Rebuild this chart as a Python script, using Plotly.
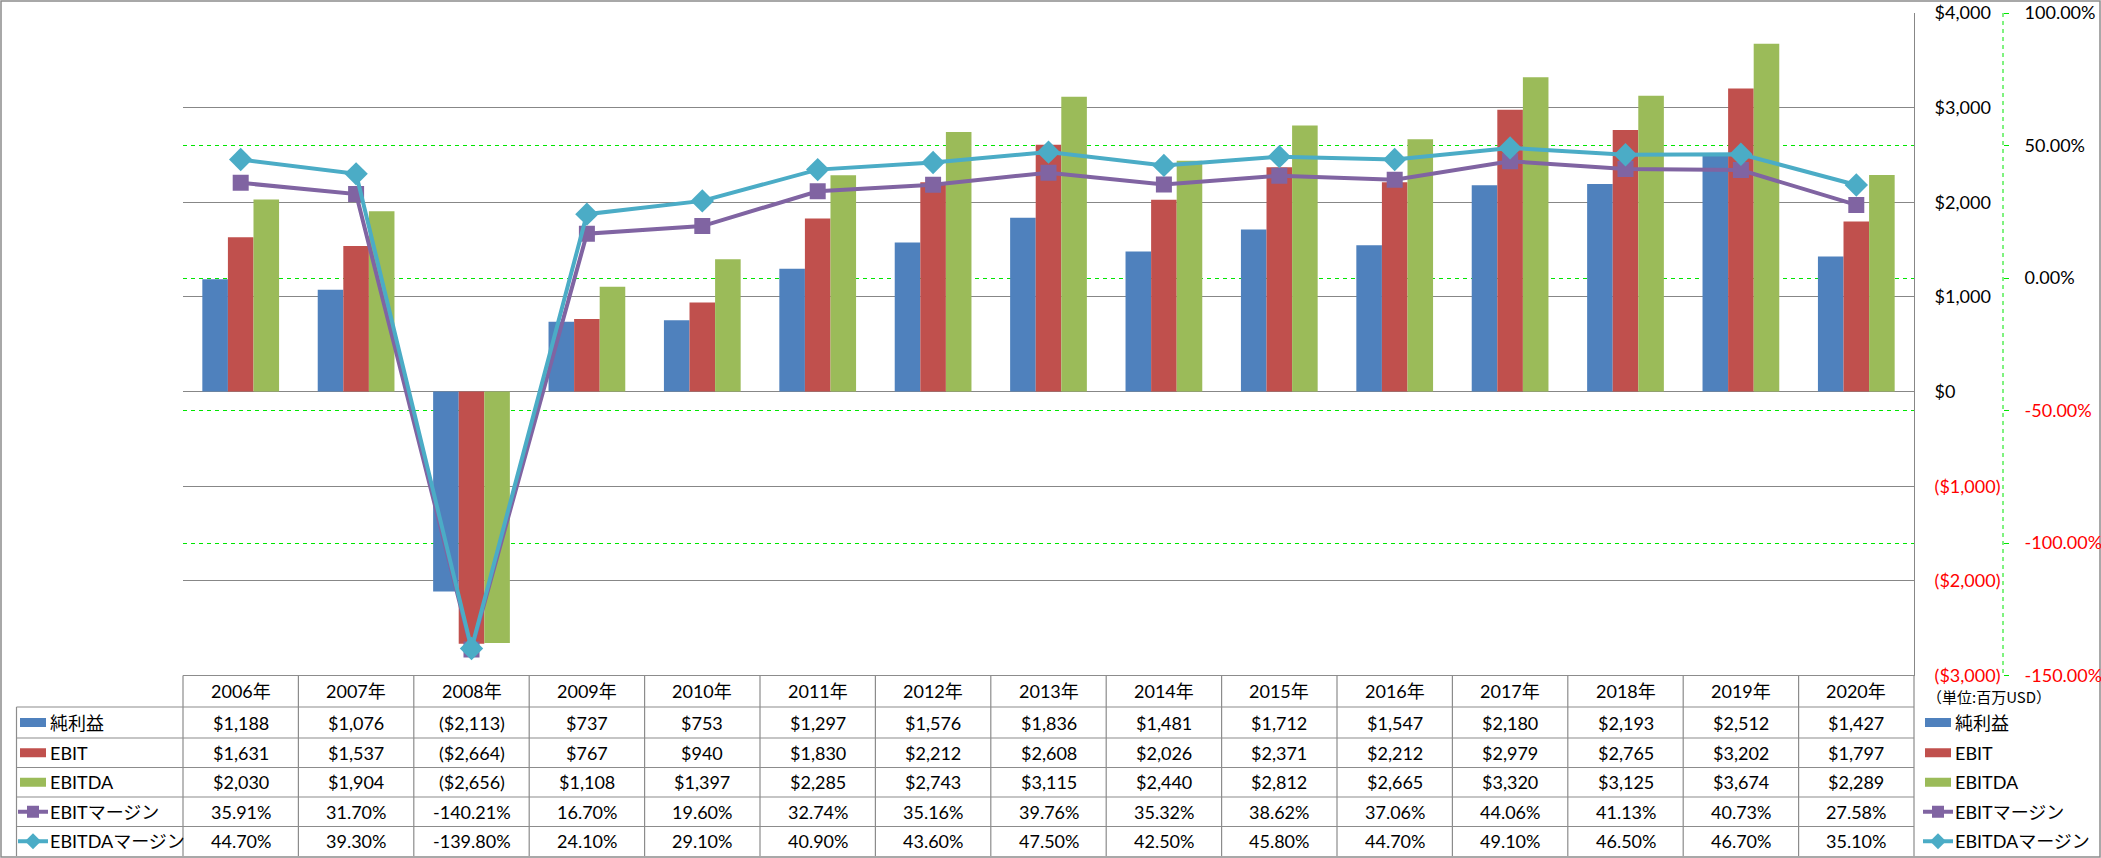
import plotly.graph_objects as go

W, H = 2101, 858

years = ["2006年", "2007年", "2008年", "2009年", "2010年", "2011年", "2012年", "2013年",
         "2014年", "2015年", "2016年", "2017年", "2018年", "2019年", "2020年"]
net_income = [1188, 1076, -2113, 737, 753, 1297, 1576, 1836, 1481, 1712, 1547, 2180, 2193, 2512, 1427]
ebit = [1631, 1537, -2664, 767, 940, 1830, 2212, 2608, 2026, 2371, 2212, 2979, 2765, 3202, 1797]
ebitda = [2030, 1904, -2656, 1108, 1397, 2285, 2743, 3115, 2440, 2812, 2665, 3320, 3125, 3674, 2289]
ebit_margin = [35.91, 31.70, -140.21, 16.70, 19.60, 32.74, 35.16, 39.76, 35.32, 38.62, 37.06, 44.06, 41.13, 40.73, 27.58]
ebitda_margin = [44.70, 39.30, -139.80, 24.10, 29.10, 40.90, 43.60, 47.50, 42.50, 45.80, 44.70, 49.10, 46.50, 46.70, 35.10]

usd_ticks = [-3000, -2000, -1000, 0, 1000, 2000, 3000, 4000]
pct_ticks = [-150, -100, -50, 0, 50, 100]

series_names = ["純利益", "EBIT", "EBITDA", "EBITマージン", "EBITDAマージン"]
unit_label = "（単位:百万USD）"

C_BLUE, C_RED, C_GREEN = "#4F81BD", "#C0504D", "#9BBB59"
C_PURPLE, C_CYAN = "#8064A2", "#4BACC6"
C_GRID = "#878787"
C_LIME = "#00E600"
FONT = "Lato, 'Noto Sans CJK JP', sans-serif"
JFONT = "'Noto Sans CJK JP', sans-serif"

PL, PR, PT, PB = 183, 1914, 13, 675.5
ROWS = [675.5, 707, 738, 767.5, 797, 826.5, 856]


def fx(x):
    return x / W


def fy(y):
    return 1 - y / H


def usd(v):
    return f"${v:,}" if v >= 0 else f"(${-v:,})"


def usd_tick(v):
    t = usd(v)
    return f'<span style="color:#FF0000">{t}</span>' if v < 0 else t


def pct_tick(v):
    t = f"{v:.2f}%"
    return f'<span style="color:#FF0000">{t}</span>' if v < 0 else t


fig = go.Figure()
fig.add_bar(x=years, y=net_income, name=series_names[0], marker_color=C_BLUE, marker_line_width=0)
fig.add_bar(x=years, y=ebit, name=series_names[1], marker_color=C_RED, marker_line_width=0)
fig.add_bar(x=years, y=ebitda, name=series_names[2], marker_color=C_GREEN, marker_line_width=0)
fig.add_scatter(x=years, y=ebit_margin, name=series_names[3], yaxis="y2", mode="lines+markers",
                line=dict(color=C_PURPLE, width=4),
                marker=dict(symbol="square", size=16, color=C_PURPLE))
fig.add_scatter(x=years, y=ebitda_margin, name=series_names[4], yaxis="y2", mode="lines+markers",
                line=dict(color=C_CYAN, width=4),
                marker=dict(symbol="diamond", size=18, color=C_CYAN))

shapes = []
annotations = []

# outer chart border
shapes.append(dict(type="rect", xref="paper", yref="paper", x0=fx(1), x1=fx(2100), y0=fy(1), y1=fy(857),
                   line=dict(color="#8C8C8C", width=1.5), layer="below"))

# secondary axis dashed line
shapes.append(dict(type="line", xref="paper", yref="paper", x0=fx(2003), x1=fx(2003), y0=fy(PT), y1=fy(PB),
                   line=dict(color=C_LIME, width=1, dash="4px,4px")))

# table grid
TL = 16.5
cw = (PR - PL) / len(years)
tline = dict(color="#8C8C8C", width=1.2)
shapes.append(dict(type="line", xref="paper", yref="paper", x0=fx(PL), x1=fx(PR), y0=fy(ROWS[0]), y1=fy(ROWS[0]), line=tline))
for r in ROWS[1:-1]:
    shapes.append(dict(type="line", xref="paper", yref="paper", x0=fx(TL), x1=fx(PR), y0=fy(r), y1=fy(r), line=tline))
shapes.append(dict(type="line", xref="paper", yref="paper", x0=fx(TL), x1=fx(TL), y0=fy(ROWS[1]), y1=fy(ROWS[-1]), line=tline))
for i in range(len(years) + 1):
    xx = PL + i * cw
    shapes.append(dict(type="line", xref="paper", yref="paper", x0=fx(xx), x1=fx(xx), y0=fy(ROWS[0]), y1=fy(ROWS[-1]), line=tline))

row_c = [(ROWS[i] + ROWS[i + 1]) / 2 for i in range(len(ROWS) - 1)]

# header
for yr in years:
    annotations.append(dict(x=yr, xref="x", y=fy(row_c[0]), yref="paper", text=yr, showarrow=False,
                            xanchor="center", yanchor="middle", font=dict(family=FONT, size=18, color="#000")))

table_rows = [
    [usd(v) for v in net_income],
    [usd(v) for v in ebit],
    [usd(v) for v in ebitda],
    [f"{v:.2f}%" for v in ebit_margin],
    [f"{v:.2f}%" for v in ebitda_margin],
]
for ri, vals in enumerate(table_rows):
    yc = row_c[ri + 1]
    for yr, t in zip(years, vals):
        annotations.append(dict(x=yr, xref="x", y=fy(yc), yref="paper", text=t, showarrow=False,
                                xanchor="center", yanchor="middle", font=dict(family=FONT, size=18, color="#000")))


def legend_key(x0, yc, kind, color):
    if kind == "bar":
        shapes.append(dict(type="rect", xref="paper", yref="paper", x0=fx(x0), x1=fx(x0 + 26),
                           y0=fy(yc - 4.5), y1=fy(yc + 4.5), fillcolor=color, line=dict(width=0)))
    else:
        shapes.append(dict(type="line", xref="paper", yref="paper", x0=fx(x0 - 2), x1=fx(x0 + 28),
                           y0=fy(yc), y1=fy(yc), line=dict(color=color, width=4)))
        cx = x0 + 13
        if kind == "square":
            shapes.append(dict(type="rect", xref="paper", yref="paper", x0=fx(cx - 6), x1=fx(cx + 6),
                               y0=fy(yc - 6), y1=fy(yc + 6), fillcolor=color, line=dict(width=0)))
        else:
            d = 8
            path = (f"M {fx(cx - d)} {fy(yc)} L {fx(cx)} {fy(yc - d)} L {fx(cx + d)} {fy(yc)} "
                    f"L {fx(cx)} {fy(yc + d)} Z")
            shapes.append(dict(type="path", xref="paper", yref="paper", path=path,
                               fillcolor=color, line=dict(width=0)))


kinds = [("bar", C_BLUE), ("bar", C_RED), ("bar", C_GREEN), ("square", C_PURPLE), ("diamond", C_CYAN)]
for i, (name, (kind, col)) in enumerate(zip(series_names, kinds)):
    yc = row_c[i + 1]
    legend_key(20, yc, kind, col)
    annotations.append(dict(x=fx(48), xref="paper", y=fy(yc), yref="paper", text=name, showarrow=False,
                            xanchor="left", yanchor="middle", font=dict(family=FONT, size=18, color="#000")))
    legend_key(1925, yc, kind, col)
    annotations.append(dict(x=fx(1953), xref="paper", y=fy(yc), yref="paper", text=name, showarrow=False,
                            xanchor="left", yanchor="middle", font=dict(family=FONT, size=18, color="#000")))

annotations.append(dict(x=fx(1925), xref="paper", y=fy(696), yref="paper", text=unit_label, showarrow=False,
                        xanchor="left", yanchor="middle", font=dict(family=JFONT, size=15, color="#000")))

fig.update_layout(
    width=W, height=H,
    margin=dict(l=0, r=0, t=0, b=0, pad=0),
    paper_bgcolor="white", plot_bgcolor="white",
    showlegend=False,
    barmode="group", bargap=0.335, bargroupgap=0,
    font=dict(family=FONT, size=17, color="#000"),
    xaxis=dict(domain=[fx(PL), fx(PR)], range=[-0.5, len(years) - 0.5], showticklabels=False,
               showgrid=False, zeroline=False, showline=False, ticks="", automargin=False),
    yaxis=dict(domain=[fy(PB), fy(PT)], range=[-3000, 4000], side="right",
               tickvals=usd_ticks, ticktext=[usd_tick(v) for v in usd_ticks],
               showgrid=True, gridcolor=C_GRID, gridwidth=1, zeroline=False,
               showline=True, linecolor=C_GRID, linewidth=1, ticks="", ticklabelstandoff=16,
               tickfont=dict(family=FONT, size=18, color="#000"), automargin=False),
    yaxis2=dict(domain=[fy(PB), fy(PT)], range=[-150, 100], overlaying="y", side="right",
                anchor="free", position=fx(2003),
                tickvals=pct_ticks, ticktext=[pct_tick(v) for v in pct_ticks],
                showgrid=True, gridcolor=C_LIME, gridwidth=1, griddash="4px,4px", zeroline=False,
                showline=False, ticks="outside", ticklen=5, tickcolor=C_LIME, tickwidth=1,
                ticklabelstandoff=12,
                tickfont=dict(family=FONT, size=18, color="#000"), automargin=False),
    shapes=shapes,
    annotations=annotations,
)

fig.write_html("out.html", config={"displayModeBar": False},
               post_script="document.body.style.margin='0';document.body.style.overflow='hidden';")
